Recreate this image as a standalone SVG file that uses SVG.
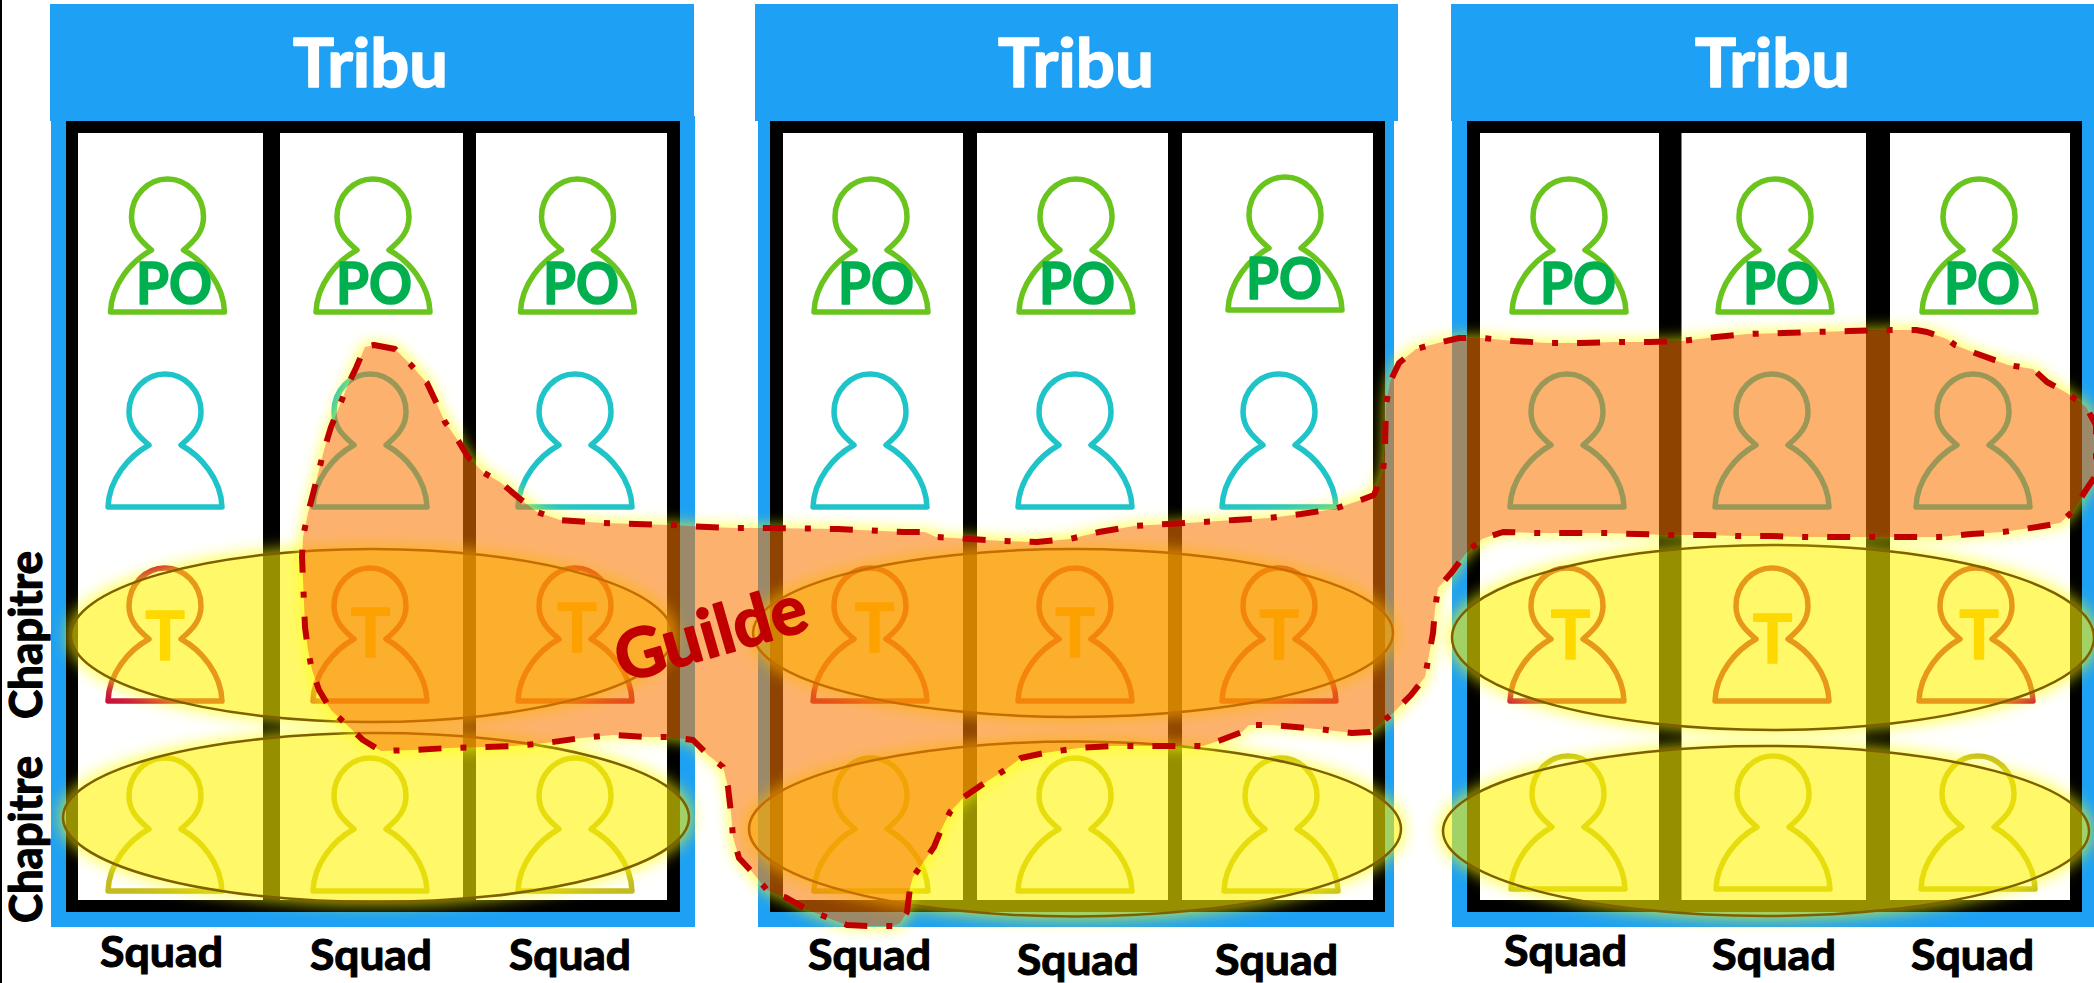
<svg xmlns="http://www.w3.org/2000/svg" width="2094" height="983" viewBox="0 0 2094 983">
<style>
text{font-family:"Lato","Open Sans","Liberation Sans",sans-serif;font-weight:700;stroke-linejoin:round}
.tribu{fill:#fff;stroke:#fff;stroke-width:1.6px;font-size:66px}
.squad{fill:#000;stroke:#000;stroke-width:1.1px;font-size:42px}
.chap{fill:#000;stroke:#000;stroke-width:1.2px;font-size:45px}
.po{fill:#00b050;stroke:#00b050;stroke-width:1.6px;font-size:58px}
.t{fill:#ffb000;stroke:#ffb000;stroke-width:1.4px;font-size:66px;text-anchor:middle}
.gt{fill:#c00000;stroke:#c00000;stroke-width:1.8px;font-size:68px;text-anchor:middle}
.blue{fill:#1ea1f4}
.blk{fill:#000}
.wht{fill:#fff}
.pers{fill:none;stroke-width:5.5;stroke-linejoin:round}
.green{stroke:#69c41e}
.teal{stroke:#1fc4c9}
.red{stroke:#c8143c}
.gold{stroke:#c4bc20}
.ef{fill:#fff500}
.es{fill:none;stroke:#7f6000;stroke-width:2.5}
.gf{fill:#fa7800}
.gs{fill:none;stroke:#c00000;stroke-width:6;stroke-dasharray:23 19 6 19;stroke-linejoin:round}
</style>
<defs>
<path id="person" d="M-16,71C-28,61-36,52-36,38C-36,16-19,0 0,0C19,0 36,16 36,38C36,52 28,61 16,71C36,82 56,105 57,133L-57,133C-56,105-36,82-16,71Z"/>
<filter id="ge" x="-10%" y="-25%" width="120%" height="150%" color-interpolation-filters="sRGB">
<feMorphology in="SourceAlpha" operator="dilate" radius="3" result="d"/>
<feGaussianBlur in="d" stdDeviation="8" result="b"/>
<feFlood flood-color="#ffff00" flood-opacity="0.7"/>
<feComposite in2="b" operator="in" result="g"/>
<feComposite in="g" in2="SourceAlpha" operator="out" result="o"/>
<feComponentTransfer in="SourceGraphic" result="s"><feFuncA type="linear" slope="0.59"/></feComponentTransfer>
<feMerge><feMergeNode in="o"/><feMergeNode in="s"/></feMerge>
</filter>
<filter id="gb" x="-5%" y="-10%" width="110%" height="120%" color-interpolation-filters="sRGB">
<feMorphology in="SourceAlpha" operator="dilate" radius="3" result="d"/>
<feGaussianBlur in="d" stdDeviation="7" result="b"/>
<feFlood flood-color="#ffff00" flood-opacity="0.6"/>
<feComposite in2="b" operator="in" result="g"/>
<feComposite in="g" in2="SourceAlpha" operator="out" result="o"/>
<feComponentTransfer in="SourceGraphic" result="s"><feFuncA type="linear" slope="0.57"/></feComponentTransfer>
<feMerge><feMergeNode in="o"/><feMergeNode in="s"/></feMerge>
</filter>
</defs>
<rect width="2094" height="983" fill="#fff"/>
<rect x="0" y="0" width="2" height="983" fill="#000"/>
<g id="tribu-1">
<rect class="blue" x="51" y="116" width="644" height="811"/>
<rect class="blue" x="50" y="4" width="644" height="117"/>
<rect class="blk" x="66" y="121" width="614" height="791"/>
<rect class="wht" x="78" y="133" width="185" height="767"/>
<rect class="wht" x="280" y="133" width="183" height="767"/>
<rect class="wht" x="476" y="133" width="191" height="767"/>
<text class="tribu" x="293" y="87" textLength="155" lengthAdjust="spacingAndGlyphs">Tribu</text>
<g class="pers">
<use href="#person" x="167.500" y="179" class="green"/><use href="#person" x="373" y="179" class="green"/><use href="#person" x="577.500" y="179" class="green"/>
<use href="#person" x="165" y="374" class="teal"/><use href="#person" x="370" y="374" class="teal"/><use href="#person" x="575" y="374" class="teal"/>
<use href="#person" x="165" y="568" class="red"/><use href="#person" x="370" y="568" class="red"/><use href="#person" x="575" y="568" class="red"/>
<use href="#person" x="165" y="758" class="gold"/><use href="#person" x="370" y="758" class="gold"/><use href="#person" x="575" y="758" class="gold"/>
</g>
<text class="po" x="136" y="304" textLength="76" lengthAdjust="spacingAndGlyphs">PO</text>
<text class="po" x="336" y="304" textLength="76" lengthAdjust="spacingAndGlyphs">PO</text>
<text class="po" x="543" y="304" textLength="76" lengthAdjust="spacingAndGlyphs">PO</text>
<text class="t" x="165" y="660">T</text><text class="t" x="370.500" y="657">T</text><text class="t" x="577" y="652">T</text>
<text class="squad" x="100" y="967" textLength="123" lengthAdjust="spacingAndGlyphs">Squad</text>
<text class="squad" x="310" y="970" textLength="122" lengthAdjust="spacingAndGlyphs">Squad</text>
<text class="squad" x="509" y="970" textLength="122" lengthAdjust="spacingAndGlyphs">Squad</text>
</g>
<g id="tribu-2">
<rect class="blue" x="758" y="116" width="636" height="811"/>
<rect class="blue" x="755" y="4" width="643" height="117"/>
<rect class="blk" x="770" y="121" width="615" height="791"/>
<rect class="wht" x="783" y="133" width="180" height="767"/>
<rect class="wht" x="977" y="133" width="191" height="767"/>
<rect class="wht" x="1182" y="133" width="191" height="767"/>
<text class="tribu" x="998" y="87" textLength="156" lengthAdjust="spacingAndGlyphs">Tribu</text>
<g class="pers">
<use href="#person" x="871" y="179" class="green"/><use href="#person" x="1076" y="179" class="green"/><use href="#person" x="1285" y="177" class="green"/>
<use href="#person" x="870" y="374" class="teal"/><use href="#person" x="1075" y="374" class="teal"/><use href="#person" x="1279" y="374" class="teal"/>
<use href="#person" x="870" y="568" class="red"/><use href="#person" x="1075" y="568" class="red"/><use href="#person" x="1279" y="568" class="red"/>
<use href="#person" x="871" y="758" class="gold"/><use href="#person" x="1075" y="758" class="gold"/><use href="#person" x="1281" y="758" class="gold"/>
</g>
<text class="po" x="838" y="304" textLength="76" lengthAdjust="spacingAndGlyphs">PO</text>
<text class="po" x="1039" y="304" textLength="76" lengthAdjust="spacingAndGlyphs">PO</text>
<text class="po" x="1246" y="299" textLength="76" lengthAdjust="spacingAndGlyphs">PO</text>
<text class="t" x="874.500" y="652">T</text><text class="t" x="1075" y="657">T</text><text class="t" x="1279" y="659">T</text>
<text class="squad" x="808" y="970" textLength="123" lengthAdjust="spacingAndGlyphs">Squad</text>
<text class="squad" x="1017" y="975" textLength="122" lengthAdjust="spacingAndGlyphs">Squad</text>
<text class="squad" x="1215" y="975" textLength="123" lengthAdjust="spacingAndGlyphs">Squad</text>
</g>
<g id="tribu-3">
<rect class="blue" x="1452" y="116" width="642" height="811"/>
<rect class="blue" x="1451" y="4" width="643" height="117"/>
<rect class="blk" x="1467" y="121" width="615" height="791"/>
<rect class="wht" x="1480" y="133" width="179" height="767"/>
<rect class="wht" x="1681.500" y="133" width="184.500" height="767"/>
<rect class="wht" x="1890" y="133" width="180" height="767"/>
<text class="tribu" x="1695" y="87" textLength="155" lengthAdjust="spacingAndGlyphs">Tribu</text>
<g class="pers">
<use href="#person" x="1569" y="179" class="green"/><use href="#person" x="1775" y="179" class="green"/><use href="#person" x="1979" y="179" class="green"/>
<use href="#person" x="1567" y="374" class="teal"/><use href="#person" x="1772" y="374" class="teal"/><use href="#person" x="1973" y="374" class="teal"/>
<use href="#person" x="1567" y="568" class="red"/><use href="#person" x="1772" y="568" class="red"/><use href="#person" x="1976" y="568" class="red"/>
<use href="#person" x="1568" y="756" class="gold"/><use href="#person" x="1773" y="756" class="gold"/><use href="#person" x="1978" y="756" class="gold"/>
</g>
<text class="po" x="1540" y="304" textLength="76" lengthAdjust="spacingAndGlyphs">PO</text>
<text class="po" x="1743" y="304" textLength="76" lengthAdjust="spacingAndGlyphs">PO</text>
<text class="po" x="1944" y="304" textLength="76" lengthAdjust="spacingAndGlyphs">PO</text>
<text class="t" x="1570.500" y="659">T</text><text class="t" x="1772.500" y="663">T</text><text class="t" x="1979" y="659">T</text>
<text class="squad" x="1504" y="966" textLength="123" lengthAdjust="spacingAndGlyphs">Squad</text>
<text class="squad" x="1712" y="970" textLength="124" lengthAdjust="spacingAndGlyphs">Squad</text>
<text class="squad" x="1911" y="970" textLength="123" lengthAdjust="spacingAndGlyphs">Squad</text>
</g>
<g id="chapitres">
<ellipse class="ef" filter="url(#ge)" cx="372" cy="635.500" rx="301" ry="86.500"/>
<ellipse class="ef" filter="url(#ge)" cx="376" cy="817.500" rx="313" ry="84.500"/>
<ellipse class="ef" filter="url(#ge)" cx="1073" cy="633" rx="320" ry="84"/>
<ellipse class="ef" filter="url(#ge)" cx="1075" cy="829" rx="326" ry="87.500"/>
<ellipse class="ef" filter="url(#ge)" cx="1773" cy="637.500" rx="321" ry="92.500"/>
<ellipse class="ef" filter="url(#ge)" cx="1766" cy="831" rx="323" ry="85"/>
<ellipse class="es" cx="372" cy="635.500" rx="301" ry="86.500"/>
<ellipse class="es" cx="376" cy="817.500" rx="313" ry="84.500"/>
<ellipse class="es" cx="1073" cy="633" rx="320" ry="84"/>
<ellipse class="es" cx="1075" cy="829" rx="326" ry="87.500"/>
<ellipse class="es" cx="1773" cy="637.500" rx="321" ry="92.500"/>
<ellipse class="es" cx="1766" cy="831" rx="323" ry="85"/>
</g>
<g id="guilde">
<path id="blob" class="gf" filter="url(#gb)" d="M374,345L395,349L411,365L427,383L436,402L445,422L459,442L468,457L484,473L500,482L519,498L537,512L560,520L604,523L636,524L670,525L707,527L737,528L769,528L838,529L904,532L925,532L936,537L971,539L1003,541L1037,542L1070,539L1099,532L1134,526L1168,524L1203,522L1235,520L1269,518L1301,514L1334,509L1361,500L1374,495L1383,472L1385,447L1386,405L1390,382L1399,363L1416,349L1438,343L1459,338L1482,338L1514,341L1548,343L1581,343L1615,342L1649,342L1682,341L1716,337L1748,334L1783,333L1815,332L1849,331L1881,330L1916,330L1927,332L1947,339L1955,345L1975,353L2008,365L2033,369L2047,382L2067,393L2086,407L2096,425L2096,475L2086,490L2072,512L2060,523L2037,527L2003,532L1971,534L1939,537L1904,537L1872,537L1838,537L1803,537L1771,536L1737,536L1704,535L1670,535L1637,534L1604,533L1569,533L1537,533L1503,532L1482,539L1466,553L1452,572L1438,588L1435,610L1433,633L1429,655L1425,677L1411,695L1393,713L1370,732L1352,733L1327,730L1306,728L1272,725L1249,725L1242,732L1221,740L1203,746L1177,746L1145,746L1111,746L1079,748L1044,753L1021,758L1005,770L986,782L964,797L950,812L941,830L934,847L920,867L913,877L910,888L907,912L900,923L893,926L870,926L847,925L826,917L806,909L787,898L767,890L753,873L739,858L733,837L731,813L728,787L723,767L708,755L693,740L670,737L647,737L613,735L581,738L546,743L514,746L482,747L448,748L413,750L381,751L363,740L349,727L331,710L319,690L312,670L308,650L305,627L304,603L303,580L302,557L303,537L308,513L314,490L324,450L331,427L347,387L356,368L365,347Z"/>
<path class="gs" d="M374,345L395,349L411,365L427,383L436,402L445,422L459,442L468,457L484,473L500,482L519,498L537,512L560,520L604,523L636,524L670,525L707,527L737,528L769,528L838,529L904,532L925,532L936,537L971,539L1003,541L1037,542L1070,539L1099,532L1134,526L1168,524L1203,522L1235,520L1269,518L1301,514L1334,509L1361,500L1374,495L1383,472L1385,447L1386,405L1390,382L1399,363L1416,349L1438,343L1459,338L1482,338L1514,341L1548,343L1581,343L1615,342L1649,342L1682,341L1716,337L1748,334L1783,333L1815,332L1849,331L1881,330L1916,330L1927,332L1947,339L1955,345L1975,353L2008,365L2033,369L2047,382L2067,393L2086,407L2096,425L2096,475L2086,490L2072,512L2060,523L2037,527L2003,532L1971,534L1939,537L1904,537L1872,537L1838,537L1803,537L1771,536L1737,536L1704,535L1670,535L1637,534L1604,533L1569,533L1537,533L1503,532L1482,539L1466,553L1452,572L1438,588L1435,610L1433,633L1429,655L1425,677L1411,695L1393,713L1370,732L1352,733L1327,730L1306,728L1272,725L1249,725L1242,732L1221,740L1203,746L1177,746L1145,746L1111,746L1079,748L1044,753L1021,758L1005,770L986,782L964,797L950,812L941,830L934,847L920,867L913,877L910,888L907,912L900,923L893,926L870,926L847,925L826,917L806,909L787,898L767,890L753,873L739,858L733,837L731,813L728,787L723,767L708,755L693,740L670,737L647,737L613,735L581,738L546,743L514,746L482,747L448,748L413,750L381,751L363,740L349,727L331,710L319,690L312,670L308,650L305,627L304,603L303,580L302,557L303,537L308,513L314,490L324,450L331,427L347,387L356,368L365,347Z"/>
<text class="gt" x="717" y="656" transform="rotate(-16 717 656)">Guilde</text>
</g>
<g id="labels">
<text class="chap" transform="translate(42 719) rotate(-90)" textLength="168" lengthAdjust="spacingAndGlyphs">Chapitre</text>
<text class="chap" transform="translate(42 923) rotate(-90)" textLength="167" lengthAdjust="spacingAndGlyphs">Chapitre</text>
</g>
</svg>
